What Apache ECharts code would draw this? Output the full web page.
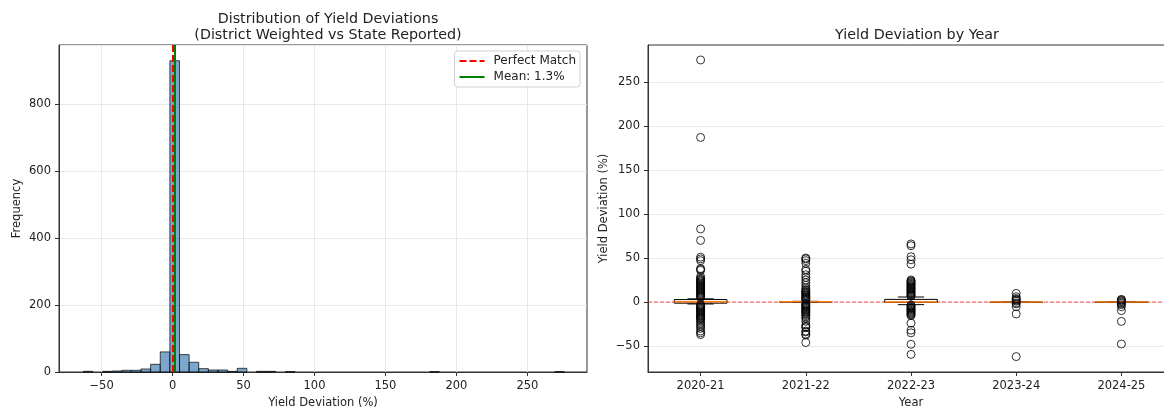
<!DOCTYPE html>
<html>
<head>
<meta charset="utf-8">
<script src="https://cdn.jsdelivr.net/npm/echarts@6/dist/echarts.min.js"></script>
<style>
  html, body { margin: 0; padding: 0; background: #fff; }
  #chart { width: 1164px; height: 407px; }
</style>
</head>
<body>
<div id="chart"></div>
<script>
// histogram: 50 bins
const binStart = -62.9;
const binWidth = 6.78;
const binCounts = [
  2, 0, 2, 3, 5, 5, 9, 23, 60, 930,
  52, 29, 10, 6, 6, 2, 11, 0, 2, 2,
  0, 1, 0, 0, 0, 0, 0, 0, 0, 0,
  0, 0, 0, 0, 0, 0, 1, 0, 0, 0,
  0, 0, 0, 0, 0, 0, 0, 0, 0, 1
];
const meanDeviation = 1.3;
const histXTicks = [-50, 0, 50, 100, 150, 200, 250];

// box plot by year
const years = ['2020-21', '2021-22', '2022-23', '2023-24', '2024-25'];
// [min whisker, q1, median, q3, max whisker]
const boxStats = [
  [-2.2, -1.3, 0.4, 2.8, 3.6],
  [-0.3, 0, 0.2, 0.5, 0.8],
  [-3, -0.4, 0, 3, 5.7],
  [-0.1, 0, 0, 0, 0.1],
  [-0.1, 0, 0, 0, 0.1]
];
const outliers = [
  [275, 187, 83, 70, 51, 49, 47, 38, 37, 36, 29, 27, 26, 25, 24, 23, 22, 21, 20, 19, 18, 17, 16, 15, 14, 13, 12, 11, 10, 9, 8, 7, 6, 5,
   -3, -4, -5, -6, -7, -8, -9, -10, -11, -12, -13, -14, -15, -16, -17, -18, -19, -20, -22, -24, -26, -28, -30, -33, -35, -37],
  [50, 49, 47, 44, 37, 35, 31, 28, 25, 22, 19, 16, 14, 13, 12, 11, 10, 9, 8, 7, 6, 5, 4, 3, 2,
   -1.5, -2.5, -3.5, -4.5, -5.5, -6.5, -7.5, -8.5, -9.5, -10.5, -11.5, -12.5, -14, -15.5, -17, -19, -22, -26, -28, -29, -33, -34, -36.5, -37.5, -46],
  [66, 64, 51.5, 48, 43, 25, 24, 23, 22, 21, 20, 19, 18, 17, 16, 15, 14, 13, 12, 11, 10, 9, 8, 7, 6.5,
   -3.5, -4.5, -5.5, -6.5, -7.5, -8.5, -9.5, -10.5, -11.5, -12.5, -13.5, -14.5, -15.5, -24, -32, -35, -48, -59.5],
  [9.8, 6, 4, 3, 2, 1, -1, -2, -5.3, -13.6, -62],
  [3, 2.3, 1.5, 0.5, -0.5, -1.5, -3, -5.3, -9.8, -22, -47.7]
];
const boxYTicks = [-50, 0, 50, 100, 150, 200, 250];
const zeroLine = [0];

const font = 'DejaVu Sans';
const gridColor = '#e8e8e8';
const minus = v => String(v).replace('-', '\u2212');

const histData = binCounts.map((c, i) => [binStart + i * binWidth, binStart + (i + 1) * binWidth, c]);
const boxData = boxStats.map((s, i) => [i].concat(s));
const outlierData = [];
outliers.forEach((vals, i) => vals.forEach(v => outlierData.push([i, v])));

const chart = echarts.init(document.getElementById('chart'), null, { renderer: 'canvas' });

const axisCommon = {
  axisLine: { show: true, onZero: false, lineStyle: { color: '#333', width: 1 } },
  axisTick: { show: true, length: 4, lineStyle: { color: '#333' } },
  axisLabel: { color: '#222', fontSize: 11.5, fontFamily: font, margin: 8 },
  nameTextStyle: { color: '#222', fontSize: 11.5, fontFamily: font }
};

function refLine(name, color, type, x) {
  return {
    type: 'line',
    name: name,
    xAxisIndex: 0, yAxisIndex: 0,
    data: [],
    symbol: 'none',
    itemStyle: { color: color },
    lineStyle: { color: color, width: 2, type: type },
    markLine: {
      silent: true, symbol: 'none', label: { show: false },
      lineStyle: { color: color, width: 2, type: type },
      data: [{ xAxis: x }]
    },
    z: 5
  };
}

chart.setOption({
  animation: false,
  textStyle: { fontFamily: font },
  title: [
    {
      text: 'Distribution of Yield Deviations\n(District Weighted vs State Reported)',
      left: 323, top: 6, textAlign: 'center',
      textStyle: { fontSize: 14.3, fontWeight: 'normal', color: '#222', lineHeight: 16, fontFamily: font }
    },
    {
      text: 'Yield Deviation by Year',
      left: 912, top: 23, textAlign: 'center',
      textStyle: { fontSize: 14.3, fontWeight: 'normal', color: '#222', fontFamily: font }
    }
  ],
  legend: {
    orient: 'vertical',
    right: 584, top: 51,
    data: ['Perfect Match', 'Mean: ' + meanDeviation + '%'],
    itemWidth: 25, itemHeight: 10, itemGap: 4,
    padding: [4, 4, 4, 4],
    borderColor: '#d0d0d0', borderWidth: 1, borderRadius: 3,
    backgroundColor: 'rgba(255,255,255,0.85)',
    itemStyle: { color: 'rgba(0,0,0,0)', borderColor: 'rgba(0,0,0,0)', borderWidth: 0 },
    textStyle: { fontSize: 12, color: '#222', fontFamily: font, padding: [0, 0, 0, 4] }
  },
  grid: [
    { left: 59, top: 45, width: 528, height: 327, outerBoundsMode: 'none', containLabel: false,
      show: true, borderColor: '#333', borderWidth: 1, backgroundColor: 'transparent' },
    { left: 648, top: 45, width: 526, height: 327, outerBoundsMode: 'none', containLabel: false,
      show: true, borderColor: '#333', borderWidth: 1, backgroundColor: 'transparent' }
  ],
  xAxis: [
    Object.assign({}, axisCommon, {
      gridIndex: 0, type: 'value', min: -80, max: 292,
      name: 'Yield Deviation (%)', nameLocation: 'middle', nameGap: 24,
      axisTick: Object.assign({}, axisCommon.axisTick, { customValues: histXTicks }),
      axisLabel: Object.assign({}, axisCommon.axisLabel, { customValues: histXTicks, formatter: minus }),
      splitLine: { show: true, customValues: histXTicks, lineStyle: { color: gridColor } }
    }),
    Object.assign({}, axisCommon, {
      gridIndex: 1, type: 'category', data: years,
      name: 'Year', nameLocation: 'middle', nameGap: 24,
      axisTick: Object.assign({}, axisCommon.axisTick, { alignWithLabel: true }),
      axisLabel: Object.assign({}, axisCommon.axisLabel, { interval: 0 }),
      splitLine: { show: false }
    })
  ],
  yAxis: [
    Object.assign({}, axisCommon, {
      gridIndex: 0, type: 'value', min: 0, max: 977, interval: 200,
      name: 'Frequency', nameLocation: 'middle', nameGap: 36,
      axisLabel: Object.assign({}, axisCommon.axisLabel, { showMaxLabel: false }),
      splitLine: { show: true, lineStyle: { color: gridColor } }
    }),
    Object.assign({}, axisCommon, {
      gridIndex: 1, type: 'value', min: -79.5, max: 292,
      name: 'Yield Deviation (%)', nameLocation: 'middle', nameGap: 38,
      axisTick: Object.assign({}, axisCommon.axisTick, { customValues: boxYTicks }),
      axisLabel: Object.assign({}, axisCommon.axisLabel, { customValues: boxYTicks, formatter: minus }),
      splitLine: { show: true, customValues: boxYTicks, lineStyle: { color: gridColor } }
    })
  ],
  series: [
    {
      type: 'custom',
      name: 'hist',
      xAxisIndex: 0, yAxisIndex: 0,
      data: histData,
      encode: { x: [0, 1], y: 2 },
      renderItem: (params, api) => {
        if (api.value(2) <= 0) return null;
        const p0 = api.coord([api.value(0), api.value(2)]);
        const p1 = api.coord([api.value(1), 0]);
        return {
          type: 'rect',
          shape: { x: p0[0], y: p0[1], width: p1[0] - p0[0], height: p1[1] - p0[1] },
          style: { fill: 'rgba(70,130,180,0.7)', stroke: 'rgba(0,0,0,0.7)', lineWidth: 1 }
        };
      },
      z: 2
    },
    refLine('Perfect Match', '#ff0000', [7, 3], 0),
    refLine('Mean: ' + meanDeviation + '%', '#008000', 'solid', meanDeviation),
    {
      // horizontal zero reference across the whole year panel
      type: 'custom',
      name: 'zero',
      xAxisIndex: 1, yAxisIndex: 1,
      data: zeroLine.map(v => [0, v]),
      encode: { x: 0, y: 1 },
      clip: false,
      renderItem: (params, api) => {
        const cs = params.coordSys;
        const y = api.coord([0, api.value(1)])[1];
        return {
          type: 'line',
          shape: { x1: cs.x, y1: y, x2: cs.x + cs.width, y2: y },
          style: { stroke: 'rgba(255,0,0,0.7)', lineWidth: 1.2, lineDash: [4, 2] }
        };
      },
      z: 3
    },
    {
      type: 'custom',
      name: 'box',
      xAxisIndex: 1, yAxisIndex: 1,
      data: boxData,
      encode: { x: 0, y: [1, 2, 3, 4, 5] },
      renderItem: (params, api) => {
        const idx = api.value(0);
        const band = api.size([1, 0])[0];
        const x = api.coord([idx, 0])[0];
        const half = band * 0.25, cap = band * 0.125;
        const y = k => api.coord([idx, api.value(k)])[1];
        const yMin = y(1), yQ1 = y(2), yMed = y(3), yQ3 = y(4), yMax = y(5);
        const black = { stroke: '#000', lineWidth: 1, fill: null };
        return {
          type: 'group',
          children: [
            { type: 'line', shape: { x1: x, y1: yQ1, x2: x, y2: yMin }, style: black },
            { type: 'line', shape: { x1: x, y1: yQ3, x2: x, y2: yMax }, style: black },
            { type: 'line', shape: { x1: x - cap, y1: yMin, x2: x + cap, y2: yMin }, style: black },
            { type: 'line', shape: { x1: x - cap, y1: yMax, x2: x + cap, y2: yMax }, style: black },
            { type: 'rect', shape: { x: x - half, y: yQ3, width: half * 2, height: Math.max(yQ1 - yQ3, 0.5) }, style: black },
            { type: 'line', shape: { x1: x - half, y1: yMed, x2: x + half, y2: yMed }, style: { stroke: '#ff7f0e', lineWidth: 1.5 } }
          ]
        };
      },
      z: 4
    },
    {
      type: 'scatter',
      name: 'outliers',
      xAxisIndex: 1, yAxisIndex: 1,
      data: outlierData,
      symbol: 'circle',
      symbolSize: 8,
      itemStyle: { color: 'rgba(0,0,0,0)', borderColor: '#000', borderWidth: 1 },
      z: 5
    }
  ]
});
</script>
</body>
</html>
